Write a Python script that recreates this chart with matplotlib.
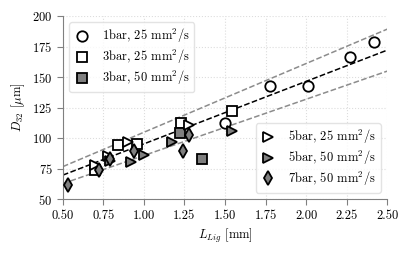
import matplotlib
matplotlib.use("Agg")
import matplotlib.pyplot as plt
import numpy as np

plt.rcParams.update({
    "font.family": "serif",
    "font.serif": ["cmr10"],
    "mathtext.fontset": "cm",
    "axes.formatter.use_mathtext": True,
    "font.size": 9,
})

# 1bar, 25 mm2/s
L_1bar25 = [1.50, 1.78, 2.01, 2.27, 2.42]
D_1bar25 = [112, 143, 142.5, 166, 179]
# 3bar, 25 mm2/s
L_3bar25 = [0.70, 0.84, 0.96, 1.23, 1.54]
D_3bar25 = [74, 94, 95, 112, 122]
# 3bar, 50 mm2/s
L_3bar50 = [1.22, 1.36]
D_3bar50 = [104, 82.5]
# 5bar, 25 mm2/s
L_5bar25 = [0.70, 0.78, 0.90, 1.28]
D_5bar25 = [78, 85, 97, 111]
# 5bar, 50 mm2/s
L_5bar50 = [0.79, 0.92, 1.00, 1.17, 1.54]
D_5bar50 = [81, 80.5, 86, 97, 105.5]
# 7bar, 50 mm2/s
L_7bar50 = [0.53, 0.72, 0.79, 0.94, 1.24, 1.28]
D_7bar50 = [61.5, 73.5, 83, 89.5, 89, 102.5]

fit_slope = 51.2
fit_intercept = 44.0
band = 0.10

fig = plt.figure(figsize=(4.11, 2.54), dpi=100)
ax = fig.add_axes([0.153, 0.2165, 0.789, 0.7205])

xl = np.array([0.5, 2.5])
mean = fit_slope * xl + fit_intercept
ax.plot(xl, mean, "--", color="black", lw=1.1, zorder=2)
ax.plot(xl, mean * (1 + band), "--", color="#8c8c8c", lw=1.1, zorder=2)
ax.plot(xl, mean * (1 - band), "--", color="#8c8c8c", lw=1.1, zorder=2)

ms = 7.5
mew = 1.3
kw = dict(linestyle="none", markersize=ms, markeredgewidth=mew, markeredgecolor="black", zorder=3)
h1, = ax.plot(L_1bar25, D_1bar25, marker="o", markerfacecolor="white", label=r"1bar, 25 mm$^2$/s", **kw)
h2, = ax.plot(L_3bar25, D_3bar25, marker="s", markerfacecolor="white", label=r"3bar, 25 mm$^2$/s", **kw)
h3, = ax.plot(L_3bar50, D_3bar50, marker="s", markerfacecolor="#7f7f7f", label=r"3bar, 50 mm$^2$/s", **kw)
h4, = ax.plot(L_5bar25, D_5bar25, marker=">", markerfacecolor="white", label=r"5bar, 25 mm$^2$/s", **kw)
h5, = ax.plot(L_5bar50, D_5bar50, marker=">", markerfacecolor="#7f7f7f", label=r"5bar, 50 mm$^2$/s", **kw)
h6, = ax.plot(L_7bar50, D_7bar50, marker="d", markerfacecolor="#7f7f7f", label=r"7bar, 50 mm$^2$/s", **kw)

ax.set_xlim(0.5, 2.5)
ax.set_ylim(50, 200)
ax.set_xticks(np.arange(0.5, 2.51, 0.25))
ax.set_yticks(np.arange(50, 201, 25))
ax.xaxis.set_major_formatter(matplotlib.ticker.FormatStrFormatter("%.2f"))
ax.grid(True, color="#dddddd", linestyle=":", lw=0.8)
ax.set_axisbelow(True)
for s in ["top", "right"]:
    ax.spines[s].set_visible(False)
for s in ["left", "bottom"]:
    ax.spines[s].set_color("#808080")
ax.tick_params(colors="#808080", labelcolor="black", length=4)

ax.set_xlabel(r"$L_{Lig}$ [mm]")
ax.set_ylabel(r"$D_{32}$ [$\mu$m]")

leg_kw = dict(frameon=True, fontsize=9, handlelength=1.2, handletextpad=1.0,
              borderpad=0.4, labelspacing=0.22)
leg1 = ax.legend(handles=[h1, h2, h3], loc="upper left", **leg_kw)
leg1.get_frame().set_edgecolor("#dddddd")
ax.add_artist(leg1)
leg2 = ax.legend(handles=[h4, h5, h6], loc="lower right", **leg_kw)
leg2.get_frame().set_edgecolor("#dddddd")

fig.savefig("out.png", dpi=100)
